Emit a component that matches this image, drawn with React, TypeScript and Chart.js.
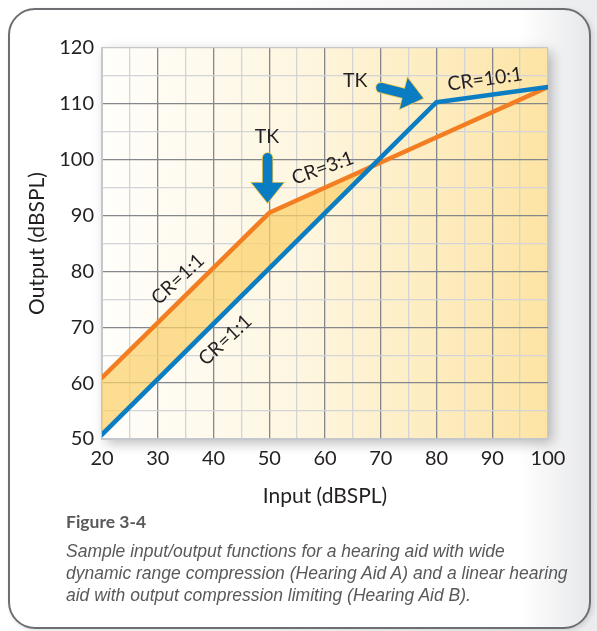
import React, { useEffect, useRef } from 'react';
import { Chart, registerables } from 'chart.js';

Chart.register(...registerables);

// Hearing Aid A (orange): wide dynamic range compression
const aidAInput = [20, 50, 100];
const aidAOutput = [61, 90.5, 113];
// Hearing Aid B (blue): linear with output compression limiting
const aidBInput = [20, 80, 100];
const aidBOutput = [50.8, 110.3, 113];

const xMin = 20;
const xMax = 100;
const yMin = 50;
const yMax = 120;
const minorStep = 5;

const xTitle = 'Input (dBSPL)';
const yTitle = 'Output (dBSPL)';

// annotation text labels (data coordinates)
const labelTexts = ['CR=1:1', 'CR=1:1', 'CR=3:1', 'CR=10:1', 'TK', 'TK'];
const labelX = [33.6, 42.1, 59.6, 88.7, 49.6, 65.4];
const labelY = [78.6, 67.7, 98.5, 114.4, 104.1, 114.1];
const labelAngle = [-43, -43, -20, -8, 0, 0];

// arrows (tail -> tip, data coordinates)
const arrowTailX = [49.7, 69.2];
const arrowTailY = [101.2, 113.1];
const arrowTipX = [49.7, 77.6];
const arrowTipY = [92.3, 111.0];

const captionTitle = 'Figure 3-4';
const captionLines = [
  'Sample input/output functions for a hearing aid with wide',
  'dynamic range compression (Hearing Aid A) and a linear hearing',
  'aid with output compression limiting (Hearing Aid B).',
];

const FONT = "Lato, 'Open Sans', sans-serif";
const TEXT_COLOR = '#231f20';

const drawArrow = (ctx: CanvasRenderingContext2D, x0: number, y0: number, x1: number, y1: number) => {
  const L = Math.hypot(x1 - x0, y1 - y0);
  const ang = Math.atan2(y1 - y0, x1 - x0);
  const sw = 4.8;
  const hw = 16;
  const hl = 20;
  ctx.save();
  ctx.translate(x0, y0);
  ctx.rotate(ang);
  ctx.beginPath();
  ctx.moveTo(sw, -sw);
  ctx.lineTo(L - hl, -sw);
  ctx.lineTo(L - hl, -hw);
  ctx.lineTo(L, 0);
  ctx.lineTo(L - hl, hw);
  ctx.lineTo(L - hl, sw);
  ctx.lineTo(sw, sw);
  ctx.arc(sw, 0, sw, Math.PI / 2, (3 * Math.PI) / 2);
  ctx.closePath();
  ctx.fillStyle = '#0a7cc2';
  ctx.strokeStyle = '#f6c744';
  ctx.lineWidth = 1.6;
  ctx.lineJoin = 'miter';
  ctx.stroke();
  ctx.fill();
  ctx.restore();
};

const backgroundPlugin = {
  id: 'plotBackground',
  beforeDraw(chart: any) {
    const { ctx, chartArea: a } = chart;
    ctx.save();
    ctx.shadowColor = 'rgba(0,0,0,0.28)';
    ctx.shadowBlur = 12;
    ctx.shadowOffsetX = 4;
    ctx.shadowOffsetY = 4;
    const g = ctx.createLinearGradient(a.left, 0, a.right, 0);
    g.addColorStop(0, '#fffefb');
    g.addColorStop(0.45, '#fef6e0');
    g.addColorStop(1, '#fde4a4');
    ctx.fillStyle = g;
    ctx.fillRect(a.left, a.top, a.width, a.height);
    ctx.restore();
  },
};

const annotationPlugin = {
  id: 'annotations',
  afterDatasetsDraw(chart: any) {
    const { ctx } = chart;
    const xs = chart.scales.x;
    const ys = chart.scales.y;
    for (let i = 0; i < arrowTailX.length; i++) {
      drawArrow(
        ctx,
        xs.getPixelForValue(arrowTailX[i]),
        ys.getPixelForValue(arrowTailY[i]),
        xs.getPixelForValue(arrowTipX[i]),
        ys.getPixelForValue(arrowTipY[i])
      );
    }
    ctx.save();
    ctx.fillStyle = TEXT_COLOR;
    ctx.font = `19.5px ${FONT}`;
    ctx.textAlign = 'center';
    ctx.textBaseline = 'middle';
    for (let i = 0; i < labelTexts.length; i++) {
      ctx.save();
      ctx.translate(xs.getPixelForValue(labelX[i]), ys.getPixelForValue(labelY[i]));
      ctx.rotate((labelAngle[i] * Math.PI) / 180);
      ctx.fillText(labelTexts[i], 0, 0);
      ctx.restore();
    }
    ctx.restore();
  },
};

const gridColor = (value: number, min: number, max: number) => {
  if (value === min || value === max) return '#c4c7cb';
  return value % 10 === 0 ? '#84888d' : '#d3d4d6';
};

export default function App() {
  const canvasRef = useRef<HTMLCanvasElement | null>(null);

  useEffect(() => {
    const canvas = canvasRef.current;
    if (!canvas) return;
    const chart = new Chart(canvas, {
      type: 'line',
      data: {
        datasets: [
          {
            label: 'Hearing Aid A',
            data: aidAInput.map((x, i) => ({ x, y: aidAOutput[i] })),
            borderColor: '#f37e22',
            borderWidth: 4.5,
            pointRadius: 0,
            borderCapStyle: 'round',
            borderJoinStyle: 'round',
            tension: 0,
            order: 1,
            fill: { target: 1, above: 'rgba(251, 208, 105, 0.72)', below: 'rgba(0,0,0,0)' },
          },
          {
            label: 'Hearing Aid B',
            data: aidBInput.map((x, i) => ({ x, y: aidBOutput[i] })),
            borderColor: '#0b7dc3',
            borderWidth: 4.5,
            pointRadius: 0,
            borderCapStyle: 'round',
            borderJoinStyle: 'round',
            tension: 0,
            order: 0,
            fill: false,
          },
        ],
      },
      options: {
        animation: false,
        responsive: false,
        events: [],
        layout: { padding: { left: 0, top: 48, right: 49, bottom: 112 } },
        plugins: {
          legend: { display: false },
          tooltip: { enabled: false },
          filler: { drawTime: 'beforeDatasetsDraw' },
        },
        scales: {
          x: {
            type: 'linear',
            min: xMin,
            max: xMax,
            afterFit: (scale: any) => {
              scale.height = 80;
            },
            ticks: {
              stepSize: minorStep,
              autoSkip: false,
              maxRotation: 0,
              padding: 8,
              color: TEXT_COLOR,
              font: { family: FONT, size: 20 },
              callback: (v: any) => (Number(v) % 10 === 0 ? String(v) : ''),
            },
            grid: {
              drawTicks: false,
              color: (c: any) => gridColor(c.tick.value, xMin, xMax),
              lineWidth: 1.3,
            },
            border: { display: true, color: '#c4c7cb', width: 2 },
            title: {
              display: true,
              text: xTitle,
              color: TEXT_COLOR,
              font: { family: FONT, size: 21 },
              padding: { top: 0, bottom: 10 },
            },
          },
          y: {
            type: 'linear',
            min: yMin,
            max: yMax,
            afterFit: (scale: any) => {
              scale.width = 102;
            },
            ticks: {
              stepSize: minorStep,
              autoSkip: false,
              padding: 8,
              color: TEXT_COLOR,
              font: { family: FONT, size: 20 },
              callback: (v: any) => (Number(v) % 10 === 0 ? String(v) : ''),
            },
            grid: {
              drawTicks: false,
              color: (c: any) => gridColor(c.tick.value, yMin, yMax),
              lineWidth: 1.3,
            },
            border: { display: true, color: '#c4c7cb', width: 2 },
            title: {
              display: true,
              text: yTitle,
              color: TEXT_COLOR,
              font: { family: FONT, size: 21 },
              padding: { top: 25, bottom: 0 },
            },
          },
        },
      },
      plugins: [backgroundPlugin, annotationPlugin],
    } as any);
    return () => chart.destroy();
  }, []);

  return (
    <div
      style={{
        position: 'absolute',
        left: 0,
        top: 0,
        width: 597,
        height: 631,
        overflow: 'hidden',
        background: 'linear-gradient(90deg, #ffffff 45%, #ebeced 100%)',
      }}
    >
      <div
        style={{
          position: 'absolute',
          left: 8,
          top: 8,
          width: 583,
          height: 621,
          boxSizing: 'border-box',
          border: '2.5px solid #6d6e71',
          borderRadius: 27,
          background: 'linear-gradient(90deg, #ffffff 0%, #ffffff 88%, #e7e8ea 100%)',
          boxShadow: '2px 2px 5px rgba(0,0,0,0.12)',
        }}
      />
      <canvas
        ref={canvasRef}
        width={597}
        height={631}
        style={{ position: 'absolute', left: 0, top: 0, width: 597, height: 631 }}
      />
      <div
        style={{
          position: 'absolute',
          left: 66,
          top: 511,
          width: 520,
          fontFamily: FONT,
          fontWeight: 'bold',
          fontSize: 17.5,
          color: '#58595b',
          lineHeight: '22px',
        }}
      >
        {captionTitle}
      </div>
      <div
        style={{
          position: 'absolute',
          left: 66,
          top: 540,
          width: 528,
          whiteSpace: 'nowrap',
          fontFamily: "'Liberation Sans', Lato, sans-serif",
          fontStyle: 'italic',
          fontSize: 17.5,
          color: '#58595b',
          lineHeight: '22px',
        }}
      >
        {captionLines.map((line, i) => (
          <div key={i}>{line}</div>
        ))}
      </div>
    </div>
  );
}
